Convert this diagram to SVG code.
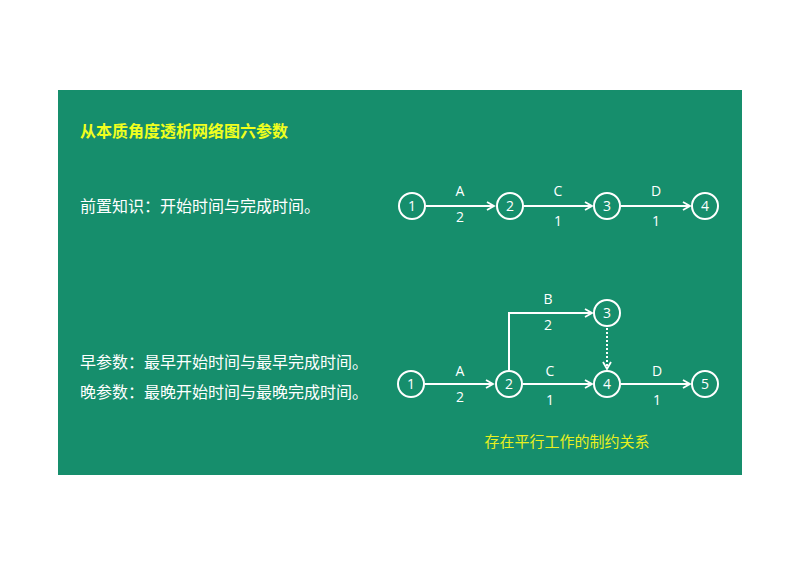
<svg xmlns="http://www.w3.org/2000/svg" width="800" height="566" viewBox="0 0 800 566">
<style>
.n circle{fill:none;stroke:#fff;stroke-width:2}
.n text,.l{fill:#fff;font-family:"Open Sans","Noto Sans",sans-serif;font-size:14px;text-anchor:middle}
.e{stroke:#fff;stroke-width:2;fill:none;marker-end:url(#a)}
.t{fill:#fff;font-family:"Noto Sans CJK SC",sans-serif;font-size:16px}
</style>
<defs><marker id="a" markerWidth="10" markerHeight="10" refX="8" refY="5" orient="auto" markerUnits="userSpaceOnUse"><path d="M1,1 L8,5 L1,9" fill="none" stroke="#fff" stroke-width="1.8"/></marker></defs>
<rect width="800" height="566" fill="#fff"/>
<rect x="58" y="90" width="684" height="385" fill="#168e6c"/>
<text x="80" y="137" font-family="Noto Sans CJK SC,sans-serif" font-size="16" font-weight="bold" fill="#f0ff1e">从本质角度透析网络图六参数</text>
<text class="t" x="80" y="212">前置知识：开始时间与完成时间。</text>
<text class="t" x="80" y="368">早参数：最早开始时间与最早完成时间。</text>
<text class="t" x="80" y="398">晚参数：最晚开始时间与最晚完成时间。</text>
<text x="567" y="447" font-family="Noto Sans CJK SC,sans-serif" font-size="15" fill="#e8f020" text-anchor="middle">存在平行工作的制约关系</text>
<g id="connectors">
<line class="e" x1="426" y1="206" x2="494" y2="206"/>
<line class="e" x1="524" y1="206" x2="592" y2="206"/>
<line class="e" x1="621" y1="206" x2="690" y2="206"/>
<line class="e" x1="425" y1="384" x2="493" y2="384"/>
<line class="e" x1="523" y1="384" x2="592" y2="384"/>
<line class="e" x1="621" y1="384" x2="690" y2="384"/>
<path class="e" d="M509,370 V313 H592"/>
<line class="e" x1="607" y1="328" x2="607" y2="369" stroke-dasharray="2,2"/>
<text class="l" x="460" y="196">A</text><text class="l" x="460" y="222">2</text>
<text class="l" x="558" y="196">C</text><text class="l" x="558" y="226">1</text>
<text class="l" x="656" y="196">D</text><text class="l" x="656" y="226">1</text>
<text class="l" x="460" y="376">A</text><text class="l" x="460" y="402">2</text>
<text class="l" x="548" y="304">B</text><text class="l" x="548" y="330">2</text>
<text class="l" x="550" y="376">C</text><text class="l" x="550" y="405">1</text>
<text class="l" x="657" y="376">D</text><text class="l" x="657" y="405">1</text>
</g>
<g id="t1" class="n"><circle cx="412" cy="206" r="13"/><text x="412" y="211">1</text></g>
<g id="t2" class="n"><circle cx="510" cy="206" r="13"/><text x="510" y="211">2</text></g>
<g id="t3" class="n"><circle cx="607" cy="206" r="13"/><text x="607" y="211">3</text></g>
<g id="t4" class="n"><circle cx="705" cy="206" r="13"/><text x="705" y="211">4</text></g>
<g id="b1" class="n"><circle cx="411" cy="384" r="13"/><text x="411" y="389">1</text></g>
<g id="b2" class="n"><circle cx="509" cy="384" r="13"/><text x="509" y="389">2</text></g>
<g id="b3" class="n"><circle cx="607" cy="313" r="13"/><text x="607" y="318">3</text></g>
<g id="b4" class="n"><circle cx="607" cy="384" r="13"/><text x="607" y="389">4</text></g>
<g id="b5" class="n"><circle cx="705" cy="384" r="13"/><text x="705" y="389">5</text></g>
</svg>
